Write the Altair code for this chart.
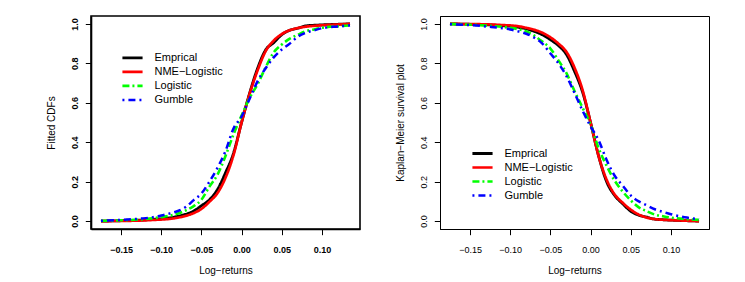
import altair as alt
import pandas as pd

# ---- data ----
x_grid = [-0.175, -0.15, -0.125, -0.11, -0.1, -0.09, -0.08, -0.07, -0.06, -0.05, -0.04, -0.03,
          -0.02, -0.01, 0.0, 0.01, 0.02, 0.03, 0.04, 0.05, 0.06, 0.07, 0.08, 0.09, 0.1, 0.12, 0.135]

emp_cdf = [0.0, 0.002, 0.005, 0.009, 0.012, 0.016, 0.024, 0.034, 0.05, 0.078, 0.108, 0.16,
           0.245, 0.345, 0.5, 0.648, 0.775, 0.868, 0.905, 0.945, 0.968, 0.978, 0.99, 0.993, 0.995, 0.998, 1.0]
nme_cdf = [0.0, 0.001, 0.003, 0.006, 0.008, 0.011, 0.017, 0.026, 0.04, 0.062, 0.098, 0.142,
           0.22, 0.335, 0.5, 0.645, 0.765, 0.862, 0.915, 0.948, 0.968, 0.979, 0.986, 0.99, 0.993, 0.997, 1.0]
logis_cdf = [0.001, 0.004, 0.009, 0.015, 0.02, 0.027, 0.037, 0.053, 0.075, 0.108, 0.175, 0.235,
             0.33, 0.44, 0.535, 0.625, 0.695, 0.78, 0.855, 0.895, 0.925, 0.945, 0.963, 0.972, 0.98, 0.988, 0.992]
gumb_cdf = [0.002, 0.006, 0.013, 0.02, 0.028, 0.038, 0.05, 0.07, 0.105, 0.14, 0.2, 0.27,
            0.355, 0.47, 0.53, 0.62, 0.71, 0.775, 0.83, 0.87, 0.9, 0.935, 0.955, 0.967, 0.978, 0.987, 0.992]

emp_surv = [1.0, 0.998, 0.995, 0.991, 0.988, 0.983, 0.975, 0.962, 0.945, 0.92, 0.89, 0.845,
            0.76, 0.655, 0.5, 0.33, 0.2, 0.13, 0.088, 0.05, 0.03, 0.02, 0.01, 0.007, 0.005, 0.002, 0.0]
nme_surv = [1.0, 0.999, 0.997, 0.994, 0.992, 0.988, 0.98, 0.97, 0.955, 0.932, 0.9, 0.858,
            0.778, 0.665, 0.5, 0.33, 0.21, 0.135, 0.093, 0.058, 0.033, 0.018, 0.01, 0.007, 0.005, 0.002, 0.0]
logis_surv = [0.999, 0.996, 0.99, 0.985, 0.98, 0.973, 0.962, 0.94, 0.91, 0.875, 0.815, 0.75,
              0.66, 0.575, 0.49, 0.37, 0.28, 0.205, 0.15, 0.105, 0.07, 0.05, 0.033, 0.025, 0.018, 0.01, 0.006]
gumb_surv = [0.998, 0.994, 0.985, 0.978, 0.972, 0.962, 0.95, 0.93, 0.9, 0.85, 0.8, 0.735,
             0.65, 0.56, 0.48, 0.41, 0.31, 0.23, 0.18, 0.13, 0.1, 0.08, 0.06, 0.047, 0.035, 0.018, 0.01]

series_names = ["Emprical", "NME\u2212Logistic", "Logistic", "Gumble"]
x_ticks = [-0.15, -0.1, -0.05, 0.0, 0.05, 0.1]
y_ticks = [0.0, 0.2, 0.4, 0.6, 0.8, 1.0]

# ---- styling ----
colors = ["#000000", "#FF0000", "#00FF00", "#0000FF"]
dashes = [[1, 0], [1, 0], [7, 3, 2, 3], [2, 4, 7, 4]]
widths = [2.8, 2.5, 2.0, 2.0]
FONT = "Liberation Sans"


def long_df(cols):
    rows = []
    for name, vals in zip(series_names, cols):
        for x, y in zip(x_grid, vals):
            rows.append({"x": x, "y": y, "series": name})
    return pd.DataFrame(rows)


def panel(df, ytitle, lx, ly, ylabpad, box_w, tick_weight):
    leg = alt.Legend(
        title=None, orient="none", legendX=lx, legendY=ly,
        symbolType="M-1.55,0H1.55", symbolSize=169, symbolFillColor="transparent",
        labelFont=FONT, labelFontSize=11,
        labelColor="black", labelOffset=14, rowPadding=-0.7, padding=0,
    )
    return alt.Chart(df).mark_line(interpolate="monotone", strokeCap="butt", clip=True).encode(
        x=alt.X("x:Q",
                scale=alt.Scale(domain=[-0.1874, 0.1474], nice=False, zero=False),
                axis=alt.Axis(values=x_ticks, format=".2f", title="Log\u2212returns", grid=False,
                              domainColor="black", domainWidth=box_w, tickColor="black", tickWidth=1,
                              tickSize=5.7, labelFont=FONT, labelFontSize=9, labelColor="black",
                              labelFontWeight=tick_weight,
                              labelBaseline="middle", labelPadding=14.5, labelFlush=False,
                              labelOverlap=False, titleFont=FONT, titleFontSize=10,
                              titleFontWeight="normal", titleColor="black", titlePadding=11)),
        y=alt.Y("y:Q",
                scale=alt.Scale(domain=[-0.04, 1.04], nice=False, zero=False),
                axis=alt.Axis(values=y_ticks, format=".1f", title=ytitle, grid=False,
                              domainColor="black", domainWidth=box_w, tickColor="black", tickWidth=1,
                              tickSize=5.7, labelFont=FONT, labelFontSize=9, labelColor="black",
                              labelFontWeight=tick_weight,
                              labelAngle=270, labelAlign="center", labelBaseline="middle",
                              labelPadding=ylabpad, labelFlush=False, labelOverlap=False,
                              titleFont=FONT, titleFontSize=10, titleFontWeight="normal",
                              titleColor="black", titlePadding=14)),
        color=alt.Color("series:N", scale=alt.Scale(domain=series_names, range=colors),
                        sort=series_names, legend=leg),
        strokeDash=alt.StrokeDash("series:N", scale=alt.Scale(domain=series_names, range=dashes),
                                  sort=series_names, legend=leg),
        strokeWidth=alt.StrokeWidth("series:N", scale=alt.Scale(domain=series_names, range=widths),
                                    sort=series_names, legend=leg),
    ).properties(
        width=269, height=213,
        view=alt.ViewBackground(stroke="black", strokeWidth=box_w, fill="white"),
    )


left = panel(long_df([emp_cdf, nme_cdf, logis_cdf, gumb_cdf]), "Fitted CDFs",
             33.5, 33.9, 11.3, 1.6, "bold")
right = panel(long_df([emp_surv, nme_surv, logis_surv, gumb_surv]), "Kaplan\u2212Meier survival plot",
              34.5, 129.5, 10.6, 1.0, "normal")

chart = alt.hconcat(left, right, spacing=34).resolve_scale(
    color="independent", strokeDash="independent", strokeWidth="independent"
).resolve_legend(
    color="independent", strokeDash="independent", strokeWidth="independent"
).properties(
    padding={"left": 37, "top": 7, "right": 5, "bottom": 5},
    background="white",
).configure_view(stroke="black")

chart.save("out.html", embed_options={"renderer": "svg", "actions": False})
